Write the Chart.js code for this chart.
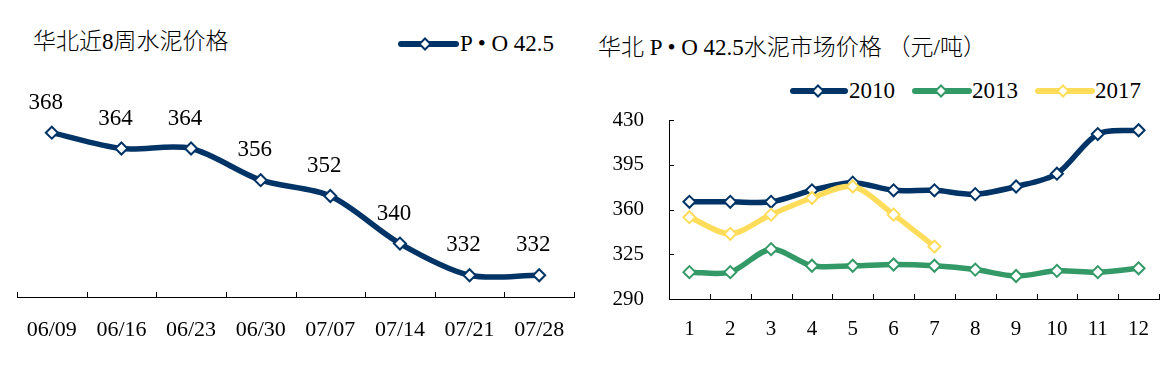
<!DOCTYPE html>
<html>
<head>
<meta charset="utf-8">
<script src="https://cdn.jsdelivr.net/npm/chart.js@4.4.1/dist/chart.umd.min.js"></script>
<style>
html,body{margin:0;padding:0;background:#fff;}
body{width:1176px;height:374px;position:relative;overflow:hidden;font-family:"Liberation Serif","Noto Sans CJK SC",serif;color:#000;}
.t{position:absolute;white-space:nowrap;line-height:30px;height:30px;}
.lt{font-weight:300;}
.sw{position:absolute;}
canvas{position:absolute;top:0;}
</style>
</head>
<body>
<div class="t lt" style="left:33px;top:27px;font-size:23px;">华北近8周水泥价格</div>
<svg class="sw" style="left:396px;top:34px;" width="66" height="20">
  <line x1="5" y1="10" x2="60" y2="10" stroke="#003366" stroke-width="6" stroke-linecap="round"/>
  <polygon points="29,4.5 34.5,10 29,15.5 23.5,10" fill="#fff" stroke="#003366" stroke-width="2"/>
</svg>
<div class="t" style="left:460px;top:29px;font-size:23px;">P • O 42.5</div>

<div class="t lt" style="left:598px;top:33px;font-size:23px;">华北 P • O 42.5水泥市场价格 （元/吨）</div>
<svg class="sw" style="left:788px;top:81px;" width="62" height="20">
  <line x1="5" y1="10" x2="57" y2="10" stroke="#003366" stroke-width="6" stroke-linecap="round"/>
  <polygon points="30,4.5 35.5,10 30,15.5 24.5,10" fill="#fff" stroke="#003366" stroke-width="2"/>
</svg>
<div class="t" style="left:849px;top:76px;font-size:23px;">2010</div>
<svg class="sw" style="left:910px;top:81px;" width="62" height="20">
  <line x1="5" y1="10" x2="59" y2="10" stroke="#339966" stroke-width="6" stroke-linecap="round"/>
  <polygon points="31,4.5 36.5,10 31,15.5 25.5,10" fill="#fff" stroke="#339966" stroke-width="2"/>
</svg>
<div class="t" style="left:972px;top:76px;font-size:23px;">2013</div>
<svg class="sw" style="left:1033px;top:81px;" width="62" height="20">
  <line x1="5" y1="10" x2="59" y2="10" stroke="#FFDD5A" stroke-width="6" stroke-linecap="round"/>
  <polygon points="30,4.5 35.5,10 30,15.5 24.5,10" fill="#fff" stroke="#FFDD5A" stroke-width="2"/>
</svg>
<div class="t" style="left:1095px;top:76px;font-size:23px;">2017</div>

<canvas id="c1" width="590" height="374" style="left:0;"></canvas>
<canvas id="c2" width="586" height="374" style="left:590px;"></canvas>

<script>
// ---- data ----
const weekLabels = ['06/09','06/16','06/23','06/30','07/07','07/14','07/21','07/28'];
const weekPrices = [368, 364, 364, 356, 352, 340, 332, 332];

const monthLabels = ['1','2','3','4','5','6','7','8','9','10','11','12'];
const price2010 = [366, 366, 366, 375, 381, 375, 375, 372, 378, 388, 419, 422];
const price2013 = [311, 311, 329, 316, 316, 317, 316, 313, 308, 312, 311, 314];
const price2017 = [354, 341, 356, 369, 378, 356, 331];
const rightYTicks = [290, 325, 360, 395, 430];

// ---- style ----
const NAVY = '#003366', GREEN = '#339966', YELLOW = '#FFDD5A';
const SERIF = '"Liberation Serif", "Noto Sans CJK SC", serif';
Chart.defaults.font.family = SERIF;
Chart.defaults.color = '#000';

const innerTicks = {
  id: 'innerTicks',
  beforeDatasetsDraw(chart, args, opts) {
    const ctx = chart.ctx, len = opts.len || 5, area = chart.chartArea;
    ctx.save();
    ctx.strokeStyle = '#000';
    ctx.lineWidth = 1;
    const x = chart.scales.x;
    if (x) {
      const n = x.ticks.length;
      const w = n > 1 ? x.getPixelForTick(1) - x.getPixelForTick(0) : x.width;
      for (let i = 0; i <= n; i++) {
        const px = Math.round(x.getPixelForTick(0) - w / 2 + i * w) + 0.5;
        ctx.beginPath();
        ctx.moveTo(px, area.bottom);
        ctx.lineTo(px, area.bottom - len);
        ctx.stroke();
      }
    }
    const y = chart.scales.y;
    if (y && y.options.display) {
      y.ticks.forEach((t, i) => {
        const py = Math.round(y.getPixelForTick(i)) + 0.5;
        ctx.beginPath();
        ctx.moveTo(area.left, py);
        ctx.lineTo(area.left + len, py);
        ctx.stroke();
      });
    }
    ctx.restore();
  }
};

const valueLabels = {
  id: 'valueLabels',
  afterDatasetsDraw(chart, args, opts) {
    if (!opts || !opts.enabled) return;
    const ctx = chart.ctx;
    const meta = chart.getDatasetMeta(0);
    const data = chart.data.datasets[0].data;
    ctx.save();
    ctx.font = opts.font;
    ctx.fillStyle = '#000';
    ctx.textAlign = 'center';
    ctx.textBaseline = 'middle';
    meta.data.forEach((pt, i) => ctx.fillText(String(data[i]), pt.x + opts.dx, pt.y + opts.dy));
    ctx.restore();
  }
};

function lineDs(label, data, color, order) {
  return {
    label, data, order,
    borderColor: color,
    backgroundColor: '#fff',
    borderWidth: 5.5,
    tension: 0.3,
    pointStyle: 'rectRot',
    pointRadius: 6,
    pointBorderWidth: 2,
    pointBackgroundColor: '#fff',
    pointBorderColor: color,
    clip: false
  };
}

// ---- left chart ----
new Chart(document.getElementById('c1'), {
  type: 'line',
  data: { labels: weekLabels, datasets: [lineDs('P • O 42.5', weekPrices, NAVY, 0)] },
  options: {
    responsive: false, animation: false, devicePixelRatio: 1,
    layout: { padding: { left: 17, right: 16, top: 101, bottom: 27 } },
    plugins: {
      legend: { display: false }, title: { display: false }, tooltip: { enabled: false },
      innerTicks: { len: 5 },
      valueLabels: { enabled: true, font: '23px ' + SERIF, dx: -6, dy: -30 }
    },
    scales: {
      x: {
        type: 'category', offset: true,
        grid: { display: false, drawTicks: false },
        border: { display: true, color: '#000', width: 1 },
        ticks: { font: { size: 22 }, color: '#000', padding: 20, autoSkip: false, maxRotation: 0 },
        afterFit(s) { s.height = 50; }
      },
      y: { display: false, min: 326.5, max: 376 }
    }
  },
  plugins: [innerTicks, valueLabels]
});

// ---- right chart ----
new Chart(document.getElementById('c2'), {
  type: 'line',
  data: {
    labels: monthLabels,
    datasets: [
      lineDs('2010', price2010, NAVY, 2),
      lineDs('2013', price2013, GREEN, 1),
      lineDs('2017', price2017, YELLOW, 0)
    ]
  },
  options: {
    responsive: false, animation: false, devicePixelRatio: 1,
    layout: { padding: { left: 0, right: 17, top: 120, bottom: 25 } },
    plugins: {
      legend: { display: false }, title: { display: false }, tooltip: { enabled: false },
      innerTicks: { len: 5 }
    },
    scales: {
      x: {
        type: 'category', offset: true,
        grid: { display: false, drawTicks: false },
        border: { display: true, color: '#000', width: 1 },
        ticks: { font: { size: 21 }, color: '#000', padding: 18, autoSkip: false, maxRotation: 0 },
        afterFit(s) { s.height = 50; }
      },
      y: {
        min: rightYTicks[0], max: rightYTicks[rightYTicks.length - 1],
        grid: { display: false, drawTicks: false },
        border: { display: true, color: '#000', width: 1 },
        ticks: { stepSize: rightYTicks[1] - rightYTicks[0], font: { size: 21 }, color: '#000', padding: 25 },
        afterFit(s) { s.width = 79; }
      }
    }
  },
  plugins: [innerTicks]
});
</script>
</body>
</html>
